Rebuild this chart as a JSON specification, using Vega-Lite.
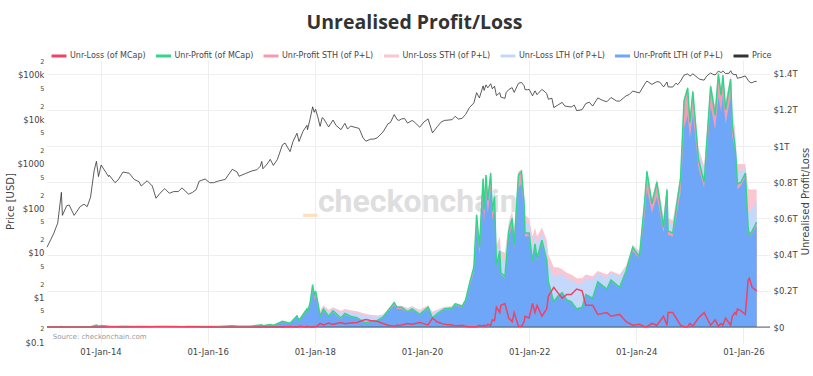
{
  "$schema": "https://vega.github.io/schema/vega-lite/v6.json",
  "width": 723,
  "height": 283,
  "autosize": {"type": "none"},
  "padding": {"left": 47, "top": 60, "right": 43, "bottom": 33},
  "background": "white",
  "title": {"text": "Unrealised Profit/Loss", "fontSize": 19.5, "font": "Open Sans", "fontWeight": "bold", "color": "#333333", "anchor": "middle", "dx": 6, "offset": 14},
  "config": {
    "view": {"stroke": null},
    "font": "DejaVu Sans",
    "axis": {"labelFont": "DejaVu Sans", "titleFont": "DejaVu Sans", "domain": false, "ticks": false, "gridColor": "#eeeeee", "labelColor": "#444444", "titleColor": "#444444", "titleFontWeight": "normal"},
    "legend": {"orient": "none", "legendX": 3, "legendY": -13, "direction": "horizontal", "labelFont": "DejaVu Sans", "labelFontSize": 8, "labelColor": "#444444", "symbolType": "stroke", "symbolSize": 225, "columnPadding": 3.5, "labelOffset": 2, "padding": 0, "symbolStrokeWidth": 3}
  },
  "data": {"values": [
    {"d":"2013-01-01","p":13.5,"b":0.0001,"g":0.0001,"lb":0.0001,"pk":0.0002,"r":0},
    {"d":"2013-02-15","p":27,"b":0.0002,"g":0.0002,"lb":0.0002,"pk":0.0003,"r":0},
    {"d":"2013-03-15","p":47,"b":0.0004,"g":0.0005,"lb":0.0005,"pk":0.0005,"r":0},
    {"d":"2013-04-09","p":230,"b":0.002,"g":0.0025,"lb":0.0025,"pk":0.0026,"r":0},
    {"d":"2013-04-16","p":70,"b":0.0006,"g":0.0007,"lb":0.0009,"pk":0.001,"r":0.0002},
    {"d":"2013-05-15","p":115,"b":0.001,"g":0.0012,"lb":0.0013,"pk":0.0014,"r":0.0001},
    {"d":"2013-07-05","p":70,"b":0.0006,"g":0.0007,"lb":0.0009,"pk":0.001,"r":0.0002},
    {"d":"2013-08-15","p":110,"b":0.001,"g":0.0011,"lb":0.0012,"pk":0.0013,"r":0.0001},
    {"d":"2013-10-02","p":110,"b":0.001,"g":0.0011,"lb":0.0012,"pk":0.0013,"r":0.0001},
    {"d":"2013-10-25","p":180,"b":0.0017,"g":0.002,"lb":0.002,"pk":0.002,"r":0},
    {"d":"2013-11-18","p":700,"b":0.006,"g":0.007,"lb":0.007,"pk":0.007,"r":0},
    {"d":"2013-12-04","p":1150,"b":0.009,"g":0.011,"lb":0.011,"pk":0.011,"r":0},
    {"d":"2013-12-18","p":520,"b":0.004,"g":0.005,"lb":0.0055,"pk":0.006,"r":0.0005},
    {"d":"2014-01-05","p":950,"b":0.007,"g":0.008,"lb":0.0082,"pk":0.0085,"r":0.0002},
    {"d":"2014-02-25","p":520,"b":0.0035,"g":0.004,"lb":0.0048,"pk":0.0055,"r":0.0012},
    {"d":"2014-04-10","p":380,"b":0.002,"g":0.0025,"lb":0.0037,"pk":0.0045,"r":0.002},
    {"d":"2014-06-03","p":660,"b":0.0045,"g":0.005,"lb":0.0057,"pk":0.0062,"r":0.0009},
    {"d":"2014-08-18","p":450,"b":0.0025,"g":0.003,"lb":0.0042,"pk":0.005,"r":0.0018},
    {"d":"2014-10-05","p":320,"b":0.0014,"g":0.0017,"lb":0.0033,"pk":0.0042,"r":0.0026},
    {"d":"2014-11-15","p":420,"b":0.0022,"g":0.0025,"lb":0.0037,"pk":0.0045,"r":0.002},
    {"d":"2015-01-14","p":170,"b":0.0008,"g":0.0009,"lb":0.0032,"pk":0.0042,"r":0.0035},
    {"d":"2015-02-10","p":220,"b":0.001,"g":0.0012,"lb":0.0032,"pk":0.0041,"r":0.003},
    {"d":"2015-05-15","p":240,"b":0.0011,"g":0.0013,"lb":0.0031,"pk":0.0039,"r":0.0028},
    {"d":"2015-07-10","p":290,"b":0.0015,"g":0.0017,"lb":0.0032,"pk":0.0038,"r":0.0022},
    {"d":"2015-08-25","p":210,"b":0.001,"g":0.0011,"lb":0.003,"pk":0.0037,"r":0.0028},
    {"d":"2015-11-04","p":410,"b":0.0028,"g":0.003,"lb":0.0038,"pk":0.0042,"r":0.0013},
    {"d":"2015-12-15","p":460,"b":0.0033,"g":0.0036,"lb":0.0041,"pk":0.0044,"r":0.0009},
    {"d":"2016-01-15","p":380,"b":0.0026,"g":0.0028,"lb":0.0036,"pk":0.004,"r":0.0013},
    {"d":"2016-03-15","p":415,"b":0.0029,"g":0.0032,"lb":0.0038,"pk":0.0041,"r":0.0009},
    {"d":"2016-06-17","p":760,"b":0.0065,"g":0.0072,"lb":0.0074,"pk":0.0076,"r":0.0002},
    {"d":"2016-08-02","p":530,"b":0.004,"g":0.0045,"lb":0.0052,"pk":0.0056,"r":0.0008},
    {"d":"2016-10-30","p":700,"b":0.006,"g":0.0065,"lb":0.0068,"pk":0.007,"r":0.0003},
    {"d":"2017-01-04","p":1140,"b":0.011,"g":0.012,"lb":0.0122,"pk":0.0124,"r":0.0001},
    {"d":"2017-01-12","p":780,"b":0.007,"g":0.0078,"lb":0.0085,"pk":0.009,"r":0.0006},
    {"d":"2017-03-03","p":1270,"b":0.012,"g":0.0135,"lb":0.0137,"pk":0.0139,"r":0.0002},
    {"d":"2017-03-24","p":930,"b":0.0085,"g":0.0095,"lb":0.0103,"pk":0.011,"r":0.0008},
    {"d":"2017-05-25","p":2700,"b":0.028,"g":0.032,"lb":0.0323,"pk":0.0326,"r":0.0002},
    {"d":"2017-07-16","p":1900,"b":0.018,"g":0.021,"lb":0.023,"pk":0.025,"r":0.0025},
    {"d":"2017-09-01","p":4900,"b":0.055,"g":0.062,"lb":0.0625,"pk":0.063,"r":0.0005},
    {"d":"2017-09-15","p":3200,"b":0.033,"g":0.037,"lb":0.04,"pk":0.043,"r":0.004},
    {"d":"2017-11-08","p":7400,"b":0.09,"g":0.1,"lb":0.101,"pk":0.102,"r":0.001},
    {"d":"2017-11-12","p":5900,"b":0.07,"g":0.078,"lb":0.082,"pk":0.085,"r":0.004},
    {"d":"2017-12-01","p":10800,"b":0.125,"g":0.14,"lb":0.141,"pk":0.142,"r":0.001},
    {"d":"2017-12-17","p":19300,"b":0.2,"g":0.235,"lb":0.236,"pk":0.237,"r":0.001},
    {"d":"2017-12-28","p":14500,"b":0.15,"g":0.17,"lb":0.172,"pk":0.175,"r":0.003},
    {"d":"2018-01-06","p":17000,"b":0.175,"g":0.2,"lb":0.201,"pk":0.203,"r":0.002},
    {"d":"2018-01-20","p":11800,"b":0.12,"g":0.14,"lb":0.145,"pk":0.15,"r":0.008},
    {"d":"2018-02-06","p":7000,"b":0.055,"g":0.06,"lb":0.075,"pk":0.09,"r":0.02},
    {"d":"2018-03-01","p":10500,"b":0.09,"g":0.1,"lb":0.11,"pk":0.12,"r":0.012},
    {"d":"2018-04-05","p":6800,"b":0.055,"g":0.06,"lb":0.08,"pk":0.095,"r":0.022},
    {"d":"2018-05-05","p":9700,"b":0.08,"g":0.09,"lb":0.1,"pk":0.11,"r":0.015},
    {"d":"2018-06-28","p":5900,"b":0.045,"g":0.05,"lb":0.075,"pk":0.09,"r":0.025},
    {"d":"2018-07-25","p":8200,"b":0.068,"g":0.075,"lb":0.09,"pk":0.1,"r":0.018},
    {"d":"2018-09-01","p":7100,"b":0.055,"g":0.06,"lb":0.08,"pk":0.093,"r":0.022},
    {"d":"2018-10-15","p":6500,"b":0.05,"g":0.052,"lb":0.076,"pk":0.088,"r":0.025},
    {"d":"2018-11-25","p":3900,"b":0.028,"g":0.03,"lb":0.065,"pk":0.078,"r":0.038},
    {"d":"2018-12-15","p":3250,"b":0.024,"g":0.025,"lb":0.062,"pk":0.072,"r":0.042},
    {"d":"2019-01-15","p":3600,"b":0.028,"g":0.03,"lb":0.06,"pk":0.068,"r":0.036},
    {"d":"2019-03-01","p":3850,"b":0.033,"g":0.035,"lb":0.058,"pk":0.064,"r":0.032},
    {"d":"2019-04-10","p":5200,"b":0.05,"g":0.055,"lb":0.065,"pk":0.07,"r":0.02},
    {"d":"2019-05-15","p":8000,"b":0.083,"g":0.09,"lb":0.095,"pk":0.1,"r":0.01},
    {"d":"2019-06-26","p":12900,"b":0.12,"g":0.135,"lb":0.137,"pk":0.14,"r":0.005},
    {"d":"2019-07-15","p":10000,"b":0.1,"g":0.11,"lb":0.113,"pk":0.117,"r":0.01},
    {"d":"2019-08-15","p":10300,"b":0.1,"g":0.11,"lb":0.114,"pk":0.118,"r":0.012},
    {"d":"2019-09-25","p":8300,"b":0.08,"g":0.085,"lb":0.095,"pk":0.105,"r":0.02},
    {"d":"2019-10-26","p":9500,"b":0.094,"g":0.1,"lb":0.108,"pk":0.115,"r":0.015},
    {"d":"2019-12-17","p":6700,"b":0.066,"g":0.07,"lb":0.085,"pk":0.095,"r":0.025},
    {"d":"2020-02-12","p":10300,"b":0.1,"g":0.11,"lb":0.115,"pk":0.12,"r":0.012},
    {"d":"2020-03-13","p":5000,"b":0.048,"g":0.05,"lb":0.075,"pk":0.085,"r":0.05},
    {"d":"2020-04-15","p":6900,"b":0.07,"g":0.075,"lb":0.09,"pk":0.095,"r":0.028},
    {"d":"2020-06-01","p":9500,"b":0.095,"g":0.1,"lb":0.108,"pk":0.112,"r":0.015},
    {"d":"2020-07-25","p":9900,"b":0.1,"g":0.105,"lb":0.11,"pk":0.115,"r":0.012},
    {"d":"2020-08-15","p":11800,"b":0.12,"g":0.128,"lb":0.131,"pk":0.134,"r":0.006},
    {"d":"2020-10-01","p":10600,"b":0.108,"g":0.115,"lb":0.12,"pk":0.123,"r":0.01},
    {"d":"2020-10-25","p":13000,"b":0.14,"g":0.15,"lb":0.152,"pk":0.154,"r":0.004},
    {"d":"2020-11-20","p":18500,"b":0.22,"g":0.24,"lb":0.242,"pk":0.244,"r":0.002},
    {"d":"2020-12-20","p":23500,"b":0.3,"g":0.33,"lb":0.332,"pk":0.335,"r":0.002},
    {"d":"2021-01-08","p":40000,"b":0.55,"g":0.62,"lb":0.625,"pk":0.63,"r":0.002},
    {"d":"2021-01-27","p":30500,"b":0.4,"g":0.44,"lb":0.46,"pk":0.47,"r":0.01},
    {"d":"2021-02-21","p":57000,"b":0.72,"g":0.82,"lb":0.825,"pk":0.83,"r":0.005},
    {"d":"2021-02-28","p":45000,"b":0.58,"g":0.65,"lb":0.67,"pk":0.68,"r":0.01},
    {"d":"2021-03-13","p":60000,"b":0.75,"g":0.84,"lb":0.845,"pk":0.85,"r":0.005},
    {"d":"2021-03-25","p":51500,"b":0.63,"g":0.7,"lb":0.715,"pk":0.725,"r":0.015},
    {"d":"2021-04-14","p":63500,"b":0.76,"g":0.85,"lb":0.86,"pk":0.87,"r":0.01},
    {"d":"2021-04-25","p":49000,"b":0.59,"g":0.64,"lb":0.67,"pk":0.69,"r":0.04},
    {"d":"2021-05-10","p":56000,"b":0.67,"g":0.72,"lb":0.75,"pk":0.77,"r":0.035},
    {"d":"2021-05-23","p":34500,"b":0.33,"g":0.34,"lb":0.41,"pk":0.45,"r":0.11},
    {"d":"2021-06-15","p":40000,"b":0.4,"g":0.42,"lb":0.47,"pk":0.5,"r":0.08},
    {"d":"2021-06-22","p":31800,"b":0.29,"g":0.3,"lb":0.38,"pk":0.42,"r":0.12},
    {"d":"2021-07-20","p":29800,"b":0.27,"g":0.28,"lb":0.37,"pk":0.41,"r":0.13},
    {"d":"2021-08-15","p":47000,"b":0.5,"g":0.53,"lb":0.56,"pk":0.58,"r":0.05},
    {"d":"2021-09-07","p":52000,"b":0.56,"g":0.6,"lb":0.62,"pk":0.64,"r":0.03},
    {"d":"2021-09-21","p":40500,"b":0.43,"g":0.45,"lb":0.5,"pk":0.54,"r":0.08},
    {"d":"2021-10-20","p":65000,"b":0.77,"g":0.84,"lb":0.85,"pk":0.86,"r":0.005},
    {"d":"2021-11-10","p":68000,"b":0.79,"g":0.86,"lb":0.865,"pk":0.87,"r":0.005},
    {"d":"2021-11-28","p":57000,"b":0.63,"g":0.68,"lb":0.71,"pk":0.73,"r":0.03},
    {"d":"2021-12-04","p":47000,"b":0.5,"g":0.52,"lb":0.58,"pk":0.62,"r":0.06},
    {"d":"2022-01-01","p":47500,"b":0.5,"g":0.52,"lb":0.57,"pk":0.6,"r":0.05},
    {"d":"2022-01-24","p":34000,"b":0.35,"g":0.36,"lb":0.45,"pk":0.5,"r":0.13},
    {"d":"2022-02-10","p":44000,"b":0.44,"g":0.46,"lb":0.52,"pk":0.55,"r":0.08},
    {"d":"2022-02-24","p":36000,"b":0.37,"g":0.38,"lb":0.46,"pk":0.5,"r":0.12},
    {"d":"2022-03-29","p":47500,"b":0.46,"g":0.48,"lb":0.52,"pk":0.55,"r":0.06},
    {"d":"2022-05-01","p":38000,"b":0.36,"g":0.37,"lb":0.44,"pk":0.48,"r":0.1},
    {"d":"2022-05-12","p":28500,"b":0.245,"g":0.25,"lb":0.35,"pk":0.4,"r":0.17},
    {"d":"2022-06-18","p":18500,"b":0.14,"g":0.14,"lb":0.28,"pk":0.33,"r":0.22},
    {"d":"2022-07-15","p":21000,"b":0.17,"g":0.17,"lb":0.29,"pk":0.33,"r":0.19},
    {"d":"2022-08-14","p":24300,"b":0.19,"g":0.19,"lb":0.29,"pk":0.32,"r":0.16},
    {"d":"2022-09-15","p":19700,"b":0.15,"g":0.15,"lb":0.27,"pk":0.3,"r":0.18},
    {"d":"2022-10-15","p":19100,"b":0.14,"g":0.14,"lb":0.26,"pk":0.29,"r":0.18},
    {"d":"2022-11-21","p":15800,"b":0.1,"g":0.1,"lb":0.24,"pk":0.27,"r":0.21},
    {"d":"2022-12-28","p":16600,"b":0.11,"g":0.11,"lb":0.24,"pk":0.27,"r":0.2},
    {"d":"2023-01-22","p":22800,"b":0.18,"g":0.18,"lb":0.27,"pk":0.29,"r":0.12},
    {"d":"2023-03-10","p":20000,"b":0.16,"g":0.16,"lb":0.26,"pk":0.28,"r":0.12},
    {"d":"2023-04-14","p":30500,"b":0.245,"g":0.25,"lb":0.3,"pk":0.31,"r":0.07},
    {"d":"2023-06-15","p":25000,"b":0.21,"g":0.21,"lb":0.27,"pk":0.29,"r":0.08},
    {"d":"2023-07-13","p":31200,"b":0.255,"g":0.26,"lb":0.3,"pk":0.31,"r":0.06},
    {"d":"2023-09-10","p":25800,"b":0.215,"g":0.22,"lb":0.28,"pk":0.29,"r":0.07},
    {"d":"2023-10-24","p":34000,"b":0.3,"g":0.31,"lb":0.33,"pk":0.34,"r":0.03},
    {"d":"2023-12-08","p":43500,"b":0.42,"g":0.44,"lb":0.45,"pk":0.455,"r":0.01},
    {"d":"2024-01-23","p":39500,"b":0.38,"g":0.39,"lb":0.41,"pk":0.42,"r":0.015},
    {"d":"2024-02-28","p":62500,"b":0.62,"g":0.7,"lb":0.705,"pk":0.71,"r":0.002},
    {"d":"2024-03-14","p":73000,"b":0.76,"g":0.86,"lb":0.865,"pk":0.87,"r":0.002},
    {"d":"2024-04-17","p":61300,"b":0.63,"g":0.68,"lb":0.7,"pk":0.71,"r":0.02},
    {"d":"2024-05-21","p":71000,"b":0.72,"g":0.8,"lb":0.81,"pk":0.82,"r":0.01},
    {"d":"2024-07-05","p":54000,"b":0.52,"g":0.55,"lb":0.59,"pk":0.61,"r":0.06},
    {"d":"2024-07-29","p":69500,"b":0.7,"g":0.76,"lb":0.77,"pk":0.78,"r":0.01},
    {"d":"2024-08-05","p":54000,"b":0.51,"g":0.53,"lb":0.58,"pk":0.6,"r":0.08},
    {"d":"2024-09-06","p":53500,"b":0.5,"g":0.52,"lb":0.57,"pk":0.59,"r":0.08},
    {"d":"2024-10-29","p":72500,"b":0.74,"g":0.82,"lb":0.83,"pk":0.84,"r":0.01},
    {"d":"2024-11-22","p":99000,"b":1.1,"g":1.25,"lb":1.255,"pk":1.26,"r":0.002},
    {"d":"2024-12-17","p":106000,"b":1.17,"g":1.32,"lb":1.325,"pk":1.33,"r":0.002},
    {"d":"2025-01-01","p":94000,"b":1.04,"g":1.13,"lb":1.15,"pk":1.16,"r":0.02},
    {"d":"2025-01-21","p":106000,"b":1.18,"g":1.3,"lb":1.31,"pk":1.32,"r":0.005},
    {"d":"2025-02-28","p":84000,"b":0.88,"g":0.93,"lb":0.97,"pk":0.99,"r":0.05},
    {"d":"2025-04-08","p":76500,"b":0.77,"g":0.8,"lb":0.86,"pk":0.89,"r":0.08},
    {"d":"2025-05-22","p":111000,"b":1.22,"g":1.33,"lb":1.34,"pk":1.35,"r":0.01},
    {"d":"2025-06-22","p":100000,"b":1.09,"g":1.17,"lb":1.2,"pk":1.22,"r":0.04},
    {"d":"2025-07-14","p":122000,"b":1.27,"g":1.4,"lb":1.405,"pk":1.41,"r":0.005},
    {"d":"2025-08-02","p":113000,"b":1.19,"g":1.28,"lb":1.3,"pk":1.31,"r":0.02},
    {"d":"2025-08-14","p":123000,"b":1.28,"g":1.39,"lb":1.4,"pk":1.41,"r":0.01},
    {"d":"2025-09-01","p":108000,"b":1.12,"g":1.2,"lb":1.23,"pk":1.25,"r":0.05},
    {"d":"2025-10-06","p":124500,"b":1.27,"g":1.37,"lb":1.38,"pk":1.39,"r":0.01},
    {"d":"2025-10-17","p":106000,"b":1.05,"g":1.12,"lb":1.17,"pk":1.2,"r":0.06},
    {"d":"2025-11-04","p":101000,"b":0.98,"g":1.0,"lb":1.06,"pk":1.1,"r":0.08},
    {"d":"2025-11-12","p":103000,"b":0.9,"g":0.92,"lb":0.98,"pk":1.0,"r":0.07},
    {"d":"2025-11-21","p":84000,"b":0.76,"g":0.79,"lb":0.86,"pk":0.9,"r":0.1},
    {"d":"2025-12-15","p":88000,"b":0.78,"g":0.8,"lb":0.86,"pk":0.9,"r":0.09},
    {"d":"2026-01-14","p":95000,"b":0.83,"g":0.85,"lb":0.88,"pk":0.9,"r":0.07},
    {"d":"2026-02-02","p":76000,"b":0.54,"g":0.55,"lb":0.64,"pk":0.77,"r":0.26},
    {"d":"2026-02-10","p":70000,"b":0.5,"g":0.51,"lb":0.63,"pk":0.76,"r":0.27},
    {"d":"2026-03-01","p":67000,"b":0.52,"g":0.53,"lb":0.66,"pk":0.76,"r":0.22},
    {"d":"2026-04-01","p":72000,"b":0.56,"g":0.58,"lb":0.69,"pk":0.76,"r":0.2},
    {"d":"2013-06-01","p":120},
    {"d":"2013-09-10","p":125},
    {"d":"2014-03-01","p":560},
    {"d":"2014-05-01","p":440},
    {"d":"2014-07-15","p":620},
    {"d":"2014-09-20","p":400},
    {"d":"2014-12-20","p":320},
    {"d":"2015-03-15","p":280},
    {"d":"2015-04-15","p":220},
    {"d":"2015-06-15","p":240},
    {"d":"2015-09-20","p":230},
    {"d":"2015-10-15","p":265},
    {"d":"2016-02-10","p":380},
    {"d":"2016-04-30","p":450},
    {"d":"2016-07-20","p":660},
    {"d":"2016-09-15","p":610},
    {"d":"2016-12-01","p":740},
    {"d":"2016-12-25","p":890},
    {"d":"2017-02-10","p":1000},
    {"d":"2017-04-20","p":1250},
    {"d":"2017-06-12","p":2950},
    {"d":"2017-08-05","p":3200},
    {"d":"2017-10-12","p":5400},
    {"d":"2018-02-20","p":11000},
    {"d":"2018-03-20","p":8300},
    {"d":"2018-05-25","p":7400},
    {"d":"2018-08-12","p":6100},
    {"d":"2018-10-30","p":6300},
    {"d":"2019-02-10","p":3650},
    {"d":"2019-06-01","p":8600},
    {"d":"2019-07-28","p":9500},
    {"d":"2019-09-05","p":10500},
    {"d":"2019-11-10","p":8800},
    {"d":"2020-01-15","p":8800},
    {"d":"2020-05-10","p":8700},
    {"d":"2020-09-05","p":10200},
    {"d":"2021-07-28","p":40000},
    {"d":"2021-12-20","p":46500},
    {"d":"2022-03-05","p":39000},
    {"d":"2022-04-20","p":41500},
    {"d":"2022-06-05","p":30000},
    {"d":"2022-09-01","p":20000},
    {"d":"2022-11-05","p":21000},
    {"d":"2023-02-15","p":24500},
    {"d":"2023-05-15","p":27000},
    {"d":"2023-08-20","p":26000},
    {"d":"2023-11-15","p":36500},
    {"d":"2024-06-10","p":69000},
    {"d":"2024-09-28","p":65500},
    {"d":"2024-10-10","p":60500},
    {"d":"2025-03-10","p":80000},
    {"d":"2025-04-25","p":94000},
    {"d":"2025-06-05","p":104000},
    {"d":"2025-09-25","p":109000},
    {"d":"2025-12-01","p":86000},
    {"d":"2026-01-05","p":93000},
    {"d":"2026-02-20","p":67000},
    {"d":"2026-03-15","p":71000}
  ]},
  "layer": [
    {
      "transform": [{"filter": "isValid(datum.b)"}],
      "layer": [
        {
          "mark": {"type": "area", "opacity": 1},
          "encoding": {
            "x": {"field": "d", "type": "temporal", "scale": {"domain": ["2013-01-01", "2026-07-01"]}, "axis": {"values": ["2014-01-01", "2016-01-01", "2018-01-01", "2020-01-01", "2022-01-01", "2024-01-01", "2026-01-01"], "format": "%d-%b-%y", "title": null, "labelFontSize": 8.5, "labelPadding": 4, "grid": true}},
            "y": {"field": "pk", "type": "quantitative", "scale": {"domain": [-0.088, 1.475], "nice": false, "zero": false}, "axis": {"orient": "right", "values": [0, 0.2, 0.4, 0.6, 0.8, 1, 1.2, 1.4], "labelExpr": "datum.value == 0 ? '$0' : '$' + format(datum.value, '.1~f') + 'T'", "labelFontSize": 8.5, "labelPadding": 3, "title": "Unrealised Profit/Loss", "titleFontSize": 10, "titleAngle": -90, "titleBaseline": "middle", "titleX": 35, "titleY": 141, "grid": true}},
            "y2": {"datum": 0},
            "color": {"datum": "Unr-Loss STH (of P+L)", "scale": {"domain": ["Unr-Loss (of MCap)", "Unr-Profit (of MCap)", "Unr-Profit STH (of P+L)", "Unr-Loss STH (of P+L)", "Unr-Loss LTH (of P+L)", "Unr-Profit LTH (of P+L)", "Price"], "range": ["#ee4266", "#35d48c", "#f59bb2", "#fac6d2", "#c3d8fb", "#6ea7f8", "#333333"]}, "legend": {"title": null, "encode": {"symbols": {"update": {"strokeWidth": {"signal": "datum.index == 0 || datum.index == 1 || datum.index == 6 ? 1.5 : 4"}}}}}}
          }
        },
        {
          "data": {"values": [{"d": "2018-01-22", "v": 0.635, "t": "checkonchain"}]},
          "mark": {"type": "text", "align": "left", "baseline": "alphabetic", "font": "Roboto", "fontWeight": "bold", "fontSize": 32, "color": "#dedede"},
          "encoding": {
            "x": {"field": "d", "type": "temporal"},
            "y": {"field": "v", "type": "quantitative"},
            "text": {"field": "t"}
          }
        },
        {
          "data": {"values": [{"d": "2018-01-19", "v": 0.625, "t": "_"}]},
          "mark": {"type": "text", "align": "right", "baseline": "alphabetic", "font": "Roboto", "fontWeight": "bold", "fontSize": 32, "color": "#fde0bf"},
          "encoding": {
            "x": {"field": "d", "type": "temporal"},
            "y": {"field": "v", "type": "quantitative"},
            "text": {"field": "t"}
          }
        },
        {
          "mark": {"type": "area", "opacity": 1},
          "encoding": {
            "x": {"field": "d", "type": "temporal"},
            "y": {"field": "lb", "type": "quantitative"},
            "y2": {"datum": 0},
            "color": {"datum": "Unr-Loss LTH (of P+L)"}
          }
        },
        {
          "mark": {"type": "area", "opacity": 1},
          "encoding": {
            "x": {"field": "d", "type": "temporal"},
            "y": {"field": "g", "type": "quantitative"},
            "y2": {"datum": 0},
            "color": {"datum": "Unr-Profit STH (of P+L)"}
          }
        },
        {
          "mark": {"type": "area", "opacity": 1},
          "encoding": {
            "x": {"field": "d", "type": "temporal"},
            "y": {"field": "b", "type": "quantitative"},
            "y2": {"datum": 0},
            "color": {"datum": "Unr-Profit LTH (of P+L)"}
          }
        },
        {
          "data": {"values": [{"z": 0}]},
          "mark": {"type": "rule", "color": "#555555", "strokeWidth": 1},
          "encoding": {
            "y": {"field": "z", "type": "quantitative"}
          }
        },
        {
          "mark": {"type": "line", "strokeWidth": 1.5},
          "encoding": {
            "x": {"field": "d", "type": "temporal"},
            "y": {"field": "g", "type": "quantitative"},
            "color": {"datum": "Unr-Profit (of MCap)"}
          }
        },
        {
          "mark": {"type": "line", "strokeWidth": 1.5},
          "encoding": {
            "x": {"field": "d", "type": "temporal"},
            "y": {"field": "r", "type": "quantitative"},
            "color": {"datum": "Unr-Loss (of MCap)"}
          }
        },
        {
          "data": {"values": [{"d": "2013-02-10", "v": -0.055, "t": "Source: checkonchain.com"}]},
          "mark": {"type": "text", "align": "left", "baseline": "middle", "font": "DejaVu Sans", "fontSize": 7, "color": "#999999"},
          "encoding": {
            "x": {"field": "d", "type": "temporal"},
            "y": {"field": "v", "type": "quantitative"},
            "text": {"field": "t"}
          }
        }
      ]
    },
    {
      "mark": {"type": "line", "strokeWidth": 0.8},
      "encoding": {
        "x": {"field": "d", "type": "temporal"},
        "y": {"field": "p", "type": "quantitative", "scale": {"type": "log", "domain": [0.095, 217000], "nice": false}, "axis": {"orient": "left", "values": [0.1, 0.2, 0.5, 1, 2, 5, 10, 20, 50, 100, 200, 500, 1000, 2000, 5000, 10000, 20000, 50000, 100000, 200000], "labelExpr": "indexof([0.1, 1, 10, 100, 1000], datum.value) >= 0 ? '$' + datum.value : datum.value == 10000 ? '$10k' : datum.value == 100000 ? '$100k' : substring(format(datum.value, '.0e'), 0, 1)", "labelFontSize": {"condition": {"test": "indexof([0.1, 1, 10, 100, 1000, 10000, 100000], datum.value) >= 0", "value": 8.5}, "value": 6.5}, "labelPadding": 3, "title": "Price [USD]", "titleFontSize": 10, "titleBaseline": "middle", "titleX": -37, "titleY": 141, "grid": false}},
        "color": {"datum": "Price"}
      }
    }
  ],
  "resolve": {"scale": {"y": "independent"}}
}
